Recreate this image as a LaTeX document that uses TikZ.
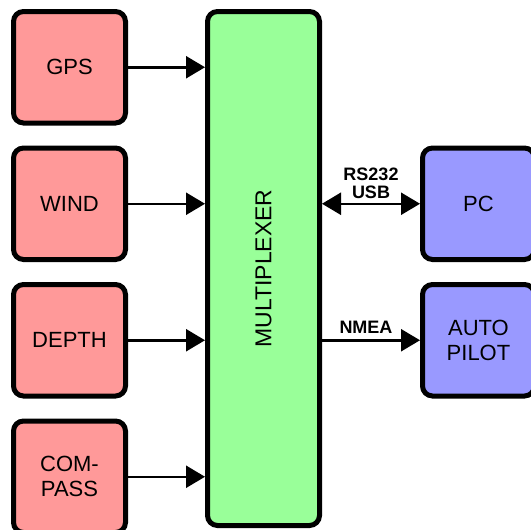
\documentclass[tikz,border=0pt]{standalone}
\usepackage{fontspec}
\setmainfont{Liberation Sans}
\usetikzlibrary{arrows.meta, positioning}
\definecolor{sensorred}{HTML}{FF9999}
\definecolor{muxgreen}{HTML}{99FF99}
\definecolor{devblue}{HTML}{9999FF}

\begin{document}
\begin{tikzpicture}[
    x=1pt, y=-1pt,
    node distance=20pt and 77pt,
    sensor/.style={
        rectangle,
        draw=black,
        fill=sensorred,
        line width=5pt,
        rounded corners=10pt,
        minimum width=112pt,
        minimum height=111.5pt,
        align=center,
        font=\fontsize{22}{25}\selectfont
    },
    mux/.style={
        sensor,
        fill=muxgreen,
        minimum height=514pt,
        font=\fontsize{23}{25}\selectfont
    },
    device/.style={
        sensor,
        fill=devblue
    },
    link/.style={
        line width=2.5pt,
        -{Triangle[length=19pt, width=22pt]}
    },
    biglink/.style={
        line width=2.5pt,
        {Triangle[length=19pt, width=22pt]}-{Triangle[length=19pt, width=22pt]}
    },
    tag/.style={
        font=\bfseries\fontsize{18}{18}\selectfont,
        align=center,
        inner sep=1pt
    }
]
    \useasboundingbox (0,0) rectangle (531,530);

    % Nodes
    \node [sensor, anchor=north west] (gps) at (11,9) {GPS};
    \node [sensor, below=of gps] (wind) {WIND};
    \node [sensor, below=of wind] (depth) {DEPTH};
    \node [sensor, below=of depth] (compass) {COM-\\PASS};

    \node [mux, right=of gps.north east, anchor=north west] (multiplexer) {\rotatebox{90}{MULTIPLEXER}};

    \node [device, anchor=west] (pc) at ([xshift=98pt]multiplexer.east |- wind) {PC};
    \node [device, anchor=west] (autopilot) at ([xshift=98pt]multiplexer.east |- depth) {AUTO\\PILOT};

    % Arrows
    \draw [link] (gps.east) -- (gps.east -| multiplexer.west);
    \draw [link] (wind.east) -- (wind.east -| multiplexer.west);
    \draw [link] (depth.east) -- (depth.east -| multiplexer.west);
    \draw [link] (compass.east) -- (compass.east -| multiplexer.west);

    \draw [biglink] (pc.west -| multiplexer.east) -- node [tag, above=3pt] {RS232\\USB} (pc.west);
    \draw [link] (autopilot.west -| multiplexer.east) -- node [tag, above=5pt, xshift=-5pt] {NMEA} (autopilot.west);
\end{tikzpicture}
\end{document}
